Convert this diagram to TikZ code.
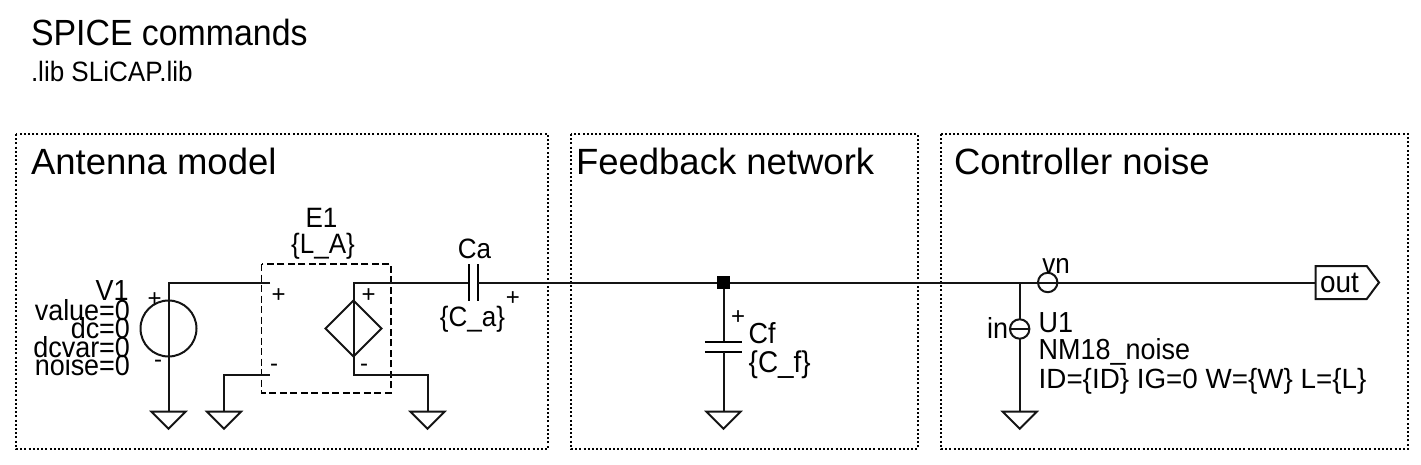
\documentclass[tikz,border=0pt]{standalone}
\usepackage{fontspec}
\setmainfont{Liberation Sans}
\newfontfamily\narrowfont[FakeStretch=0.93]{Liberation Sans}
\usetikzlibrary{shapes.geometric}
\newcommand{\fs}[1]{\fontsize{#1}{#1}\selectfont}
\newcommand{\gnd}[2]{\coordinate (#2) at (#1);
  \draw[wire,line join=miter] (#2) ++(-17,0) -- ++(34,0) -- ++(-17,17) -- cycle;}
\tikzset{
  wire/.style={line width=2pt,black!92},
  frame/.style={line width=1.8pt,dash pattern=on 2pt off 2.2pt,black},
  ctrl/.style={line width=1.8pt,dash pattern=on 7pt off 3.5pt,black},
  txt/.style={inner sep=0,outer sep=0,anchor=base west,font=\narrowfont\fs{28}},
  txtb/.style={txt,font=\narrowfont\fs{29}},
  txte/.style={txtb,anchor=base east},
  txtc/.style={txt,anchor=base},
  head/.style={inner sep=0,outer sep=0,anchor=base west,font=\fs{36.5}},
  sign/.style={inner sep=0,outer sep=0,anchor=center,font=\fs{24}},
  plate/.style={line width=2.1pt,black},
}
\begin{document}
\begin{tikzpicture}[x=1pt,y=-1pt]
\useasboundingbox (0,0) rectangle (1421,465);
% frames
\draw[frame] (16,134) rectangle (548,449);
\draw[frame] (571,134) rectangle (918,449);
\draw[frame] (941,134) rectangle (1408,449);
% headings
\node[head,font=\narrowfont\fs{36.4}] (title) at (31,46) {SPICE commands};
\node[txt] (lib) at (31,82) {.lib SLiCAP.lib};
\node[head] (h1) at (31,175) {Antenna model};
\node[head] (h2) at (576,175) {Feedback network};
\node[head] (h3) at (954,175) {Controller noise};
% points
\coordinate (n1) at (168.5,282.5);
\coordinate (p1) at (270,282.5);
\coordinate (m1) at (270,374.5);
\coordinate (c1) at (224,374.5);
\coordinate (n2) at (353.5,282.5);
\coordinate (n3) at (353.5,374.5);
\coordinate (c2) at (427.5,374.5);
\coordinate (ca1) at (468.8,282.5);
\coordinate (ca2) at (478,282.5);
\coordinate (u1) at (1019.7,282.5);
\gnd{168.5,411.7}{g1}
\gnd{224,411.7}{g2}
\gnd{427.5,411.7}{g3}
\gnd{723.5,411.7}{g4}
\gnd{1019.7,411.7}{g5}
% E1 box
\draw[ctrl] (261.5,264) rectangle (391,392.7);
% V1
\node[circle,draw,wire,minimum size=56pt,inner sep=0,outer sep=0] (V1) at (168.5,328.5) {};
\draw[wire] (p1) -- (n1) -- (V1.north) -- (V1.south) -- (g1);
% E1 ports
\draw[wire] (g2) -- (c1) -- (m1);
\node[diamond,draw,wire,minimum width=56pt,minimum height=56pt,inner sep=0,outer sep=0] (E1) at (353.5,328.5) {};
\draw[wire] (ca1) -- (n2) -- (E1.north) -- (E1.south) -- (n3) -- (c2) -- (g3);
% Ca
\draw[plate] (468.8,264) -- (468.8,300.7);
\draw[plate] (478,264) -- (478,300.7);
% main wire
\node[rectangle,fill=black,minimum size=13pt,inner sep=0,outer sep=0] (J) at (723.5,282.5) {};
\node[circle,draw,wire,minimum size=19.4pt,inner sep=0,outer sep=0] (vn) at (1047.7,282.5) {};
\coordinate (outL) at (1315.7,282.5);
\draw[wire] (ca2) -- (J) -- (u1) -- (vn.west) -- (vn.east) -- (outL);
% Cf
\draw[wire] (J) -- (723.5,342.3);
\draw[plate] (704.8,342.3) -- (742.2,342.3);
\draw[plate] (704.8,351.7) -- (742.2,351.7);
\draw[wire] (723.5,351.7) -- (g4);
% U1
\node[circle,draw,wire,minimum size=19.4pt,inner sep=0,outer sep=0] (in) at (1019.7,329) {};
\draw[wire] (u1) -- (in.north);
\draw[wire] (in.west) -- (in.east);
\draw[wire] (in.south) -- (g5);
% out
\draw[wire,line join=miter] (outL) -- (1315.7,266) -- (1366.7,266) -- (1379,282.5) -- (1366.7,299) -- (1315.7,299) -- cycle;
% labels
\node[txte] (l1) at (128.5,300) {V1};
\node[txte] (l2) at (130,320) {value=0};
\node[txte] (l3) at (130,338) {dc=0};
\node[txte] (l4) at (130,357) {dcvar=0};
\node[txte] (l5) at (130,375) {noise=0};
\node[txtc] (l6) at (321.5,227) {E1};
\node[txtc] (l7) at (323,253) {\{L\_A\}};
\node[txtc] (l8) at (474.5,258) {Ca};
\node[txtc] (l9) at (472.5,326) {\{C\_a\}};
\node[txtb] (l10) at (748.7,343) {Cf};
\node[txt,font=\narrowfont\fs{30}] (l11) at (748.7,372.5) {\{C\_f\}};
\node[txtb] (l12) at (1038.7,332.5) {U1};
\node[txtb] (l13) at (1038.7,359) {NM18\_noise};
\node[txt,font=\fs{27.8}] (l14) at (1038.7,388.5) {ID=\{ID\} IG=0 W=\{W\} L=\{L\}};
\node[txte] (l15) at (1008,338) {in};
\node[txtc] (l16) at (1056,273.5) {vn};
\node[txt,font=\narrowfont\fs{30}] (l17) at (1320,292) {out};
% polarity
\node[sign] (s1) at (154.6,300) {+};
\node[sign] (s2) at (278.6,296) {+};
\node[sign] (s3) at (368.6,296) {+};
\node[sign] (s4) at (513,299) {+};
\node[sign] (s5) at (738,318) {+};
\node[sign] (s6) at (158,364) {-};
\node[sign] (s7) at (274,368) {-};
\node[sign] (s8) at (364,368) {-};
\end{tikzpicture}
\end{document}
